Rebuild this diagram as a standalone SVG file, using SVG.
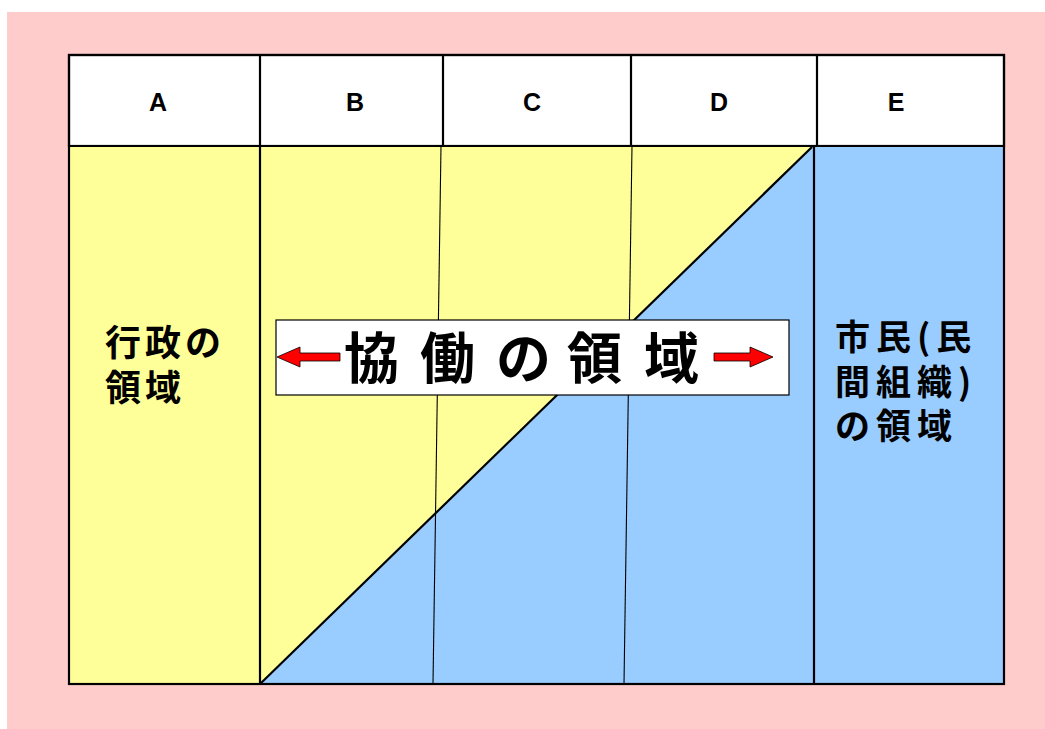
<svg xmlns="http://www.w3.org/2000/svg" width="1045" height="729" viewBox="0 0 1045 729">
<style>
.hdr{font-family:"Liberation Sans","Noto Sans CJK JP",sans-serif;font-weight:bold;font-size:25px;text-anchor:middle;fill:#000}
.jp{font-family:"Noto Sans CJK JP",sans-serif;font-weight:bold;fill:#000}
.thick{stroke:#000;stroke-width:2.2}
.thin{stroke:#000;stroke-width:1.1;fill:none}
.arrow{fill:#FF0000;stroke:#000;stroke-width:0.8}
</style>
<rect x="0" y="0" width="1045" height="729" fill="#FFFFFF"/>
<rect x="7" y="12" width="1038" height="717" fill="#FFCCCC"/>
<g id="header">
<rect x="69" y="55" width="935" height="91" fill="#FFFFFF" class="thick"/>
<line x1="260" y1="55" x2="260" y2="146" class="thick"/>
<line x1="443" y1="55" x2="443" y2="146" class="thick"/>
<line x1="631" y1="55" x2="631" y2="146" class="thick"/>
<line x1="817" y1="55" x2="817" y2="146" class="thick"/>
<text x="158" y="111" class="hdr">A</text>
<text x="355" y="111" class="hdr">B</text>
<text x="532" y="111" class="hdr">C</text>
<text x="719" y="111" class="hdr">D</text>
<text x="896" y="111" class="hdr">E</text>
</g>
<g id="col-a">
<rect x="69" y="146" width="191" height="538" fill="#FFFF99"/>
<text class="jp" font-size="36" letter-spacing="4" x="105" y="356">行政の</text>
<text class="jp" font-size="36" letter-spacing="4" x="105" y="401">領域</text>
</g>
<g id="middle">
<rect x="260" y="146" width="554" height="538" fill="#99CCFF"/>
<polygon points="260,146 812,146 260,684" fill="#FFFF99"/>
<line x1="260" y1="684" x2="812" y2="147" class="thick"/>
</g>
<g id="col-e">
<rect x="814" y="146" width="190" height="538" fill="#99CCFF"/>
<text class="jp" font-size="35" letter-spacing="6" x="835" y="350">市民(民</text>
<text class="jp" font-size="35" letter-spacing="6" x="835" y="395">間組織)</text>
<text class="jp" font-size="35" letter-spacing="6" x="835" y="439">の領域</text>
</g>
<g id="lines">
<line x1="441" y1="146" x2="433" y2="684" class="thin"/>
<line x1="632" y1="146" x2="624" y2="684" class="thin"/>
<line x1="260" y1="146" x2="260" y2="684" class="thick"/>
<line x1="814" y1="146" x2="814" y2="684" class="thick"/>
<rect x="69" y="55" width="935" height="629" class="thick" fill="none"/>
<line x1="69" y1="146" x2="1004" y2="146" class="thick"/>
</g>
<g id="label">
<rect x="276" y="320" width="513" height="75" fill="#FFFFFF" stroke="#000" stroke-width="1.2"/>
<polygon class="arrow" points="277,357 300,347 300,353 340,353 340,361 300,361 300,367"/>
<polygon class="arrow" points="773,357 750,347 750,353 714,353 714,361 750,361 750,367"/>
<text class="jp" font-size="55" x="344 398 420 473 496 547 567 622 644" y="378">協 働 の 領 域</text>
</g>
</svg>
